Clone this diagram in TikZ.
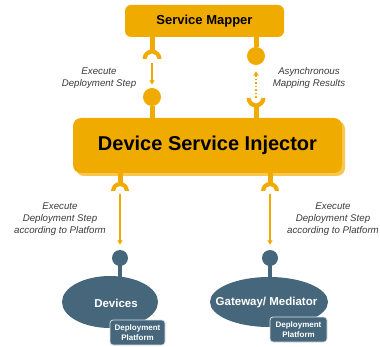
\documentclass[tikz,border=0pt]{standalone}
\usepackage{fontspec}
\setmainfont{Liberation Sans}
\usetikzlibrary{arrows.meta,shapes.geometric}
\definecolor{gold}{HTML}{F0AB00}
\definecolor{goldshadow}{HTML}{F7C752}
\definecolor{slate}{HTML}{46677B}
\definecolor{txt}{HTML}{3A3A3A}
\begin{document}
\begin{tikzpicture}[x=1pt,y=-1pt,
  goldbox/.style={fill=gold, inner sep=0pt, text=black},
  stemline/.style={draw=gold, line width=5pt},
  slatestem/.style={draw=slate, line width=4pt},
  arr/.style={draw=gold, line width=1.5pt, -{Triangle[width=5pt,length=4.5pt]}},
  goldball/.style={circle, fill=gold, inner sep=0pt, minimum size=18pt},
  slateball/.style={circle, fill=slate, inner sep=0pt, minimum size=16pt},
  lbl/.style={align=center, text=txt, font=\fontsize{9.7}{12}\selectfont\itshape, inner sep=0pt},
  platform/.style={rectangle, rounded corners=3pt, fill=slate, draw=white!80!slate, line width=0.8pt, text=white, align=center, inner sep=0pt, font=\fontsize{8}{10}\selectfont\bfseries},
  blob/.style={ellipse, fill=slate, inner sep=0pt}
]
\useasboundingbox (0,0) rectangle (380,347);

% Service Mapper
\node[goldbox, rounded corners=6pt, minimum width=159pt, minimum height=32pt,
      font=\fontsize{13}{15}\selectfont\bfseries] (sm) at (204.5,21) {Service Mapper};

% Device Service Injector with shadow
\fill[goldshadow, rounded corners=8pt] (76,121) rectangle (345,176);
\node[goldbox, rounded corners=8pt, minimum width=269pt, minimum height=55pt,
      font=\fontsize{20}{24}\selectfont\bfseries] (dsi) at (207.5,145.5) {Device Service Injector};

% sockets (coordinates)
\coordinate (s1) at (152,59);
\coordinate (s2) at (256,98);
\coordinate (s3) at (120,191);
\coordinate (s4) at (270,191);

% top-left: socket below Service Mapper, ball above DSI
\draw[stemline] (sm.south -| s1) -- ([yshift=6pt]s1);
\fill[gold] ([xshift=-9.5pt]s1) arc[start angle=180,end angle=360,radius=9.5] -- ++(-4,0) arc[start angle=360,end angle=180,radius=5.5] -- cycle;
\node[goldball] (b1) at (152,97) {};
\draw[stemline] (b1) -- (b1 |- dsi.north);
\draw[arr] ([yshift=-4pt]s1) -- ([yshift=3pt]b1.north);

% top-right: ball below Service Mapper, socket above DSI
\node[goldball] (b2) at (256,56) {};
\draw[stemline] (sm.south -| b2) -- (b2);
\fill[gold] ([xshift=-9.5pt]s2) arc[start angle=180,end angle=0,radius=9.5] -- ++(-4,0) arc[start angle=0,end angle=180,radius=5.5] -- cycle;
\draw[stemline] ([yshift=-6pt]s2) -- (s2 |- dsi.north);
\draw[arr, dotted] (s2) -- ([yshift=-6pt]b2.south);

% bottom sockets
\draw[stemline] (dsi.south -| s3) -- ([yshift=6pt]s3);
\fill[gold] ([xshift=-9pt]s3) arc[start angle=180,end angle=360,radius=9] -- ++(-4,0) arc[start angle=360,end angle=180,radius=5] -- cycle;
\draw[stemline] (dsi.south -| s4) -- ([yshift=6pt]s4);
\fill[gold] ([xshift=-9pt]s4) arc[start angle=180,end angle=360,radius=9] -- ++(-4,0) arc[start angle=360,end angle=180,radius=5] -- cycle;

% ellipses with stems and balls
\coordinate (k1) at (120,290);
\coordinate (k2) at (270,290);
\draw[slatestem] (120,258) -- (k1);
\draw[slatestem] (270,258) -- (k2);
\node[blob, minimum width=96pt, minimum height=52pt] (e1) at (110,302) {};
\node[blob, minimum width=118pt, minimum height=50pt] (e2) at (269,302) {};
\node[slateball] (b3) at (120,258) {};
\node[slateball] (b4) at (270,258) {};
\draw[arr] ([yshift=-3pt]s3) -- ([yshift=5pt]b3.north);
\draw[arr] ([yshift=-3pt]s4) -- ([yshift=5pt]b4.north);
\node[text=white, inner sep=0pt, font=\fontsize{11.5}{13}\selectfont\bfseries] (t1) at (116,303) {Devices};
\node[text=white, inner sep=0pt, font=\fontsize{11.5}{13}\selectfont\bfseries] (t2) at (266.5,303) {Gateway/ Mediator};

% platforms
\node[platform, minimum width=55pt, minimum height=25pt] (p1) at (137.5,332.5) {Deployment\\Platform};
\node[platform, minimum width=57pt, minimum height=25pt] (p2) at (298.5,329.5) {Deployment\\Platform};

% labels
\node[lbl] (l1) at (99,78) {Execute\\Deployment Step};
\node[lbl] (l2) at (309,78) {Asynchronous\\Mapping Results};
\node[lbl] (l3) at (60,219) {Execute\\Deployment Step\\according to Platform};
\node[lbl] (l4) at (333,219) {Execute\\Deployment Step\\according to Platform};
\end{tikzpicture}
\end{document}
